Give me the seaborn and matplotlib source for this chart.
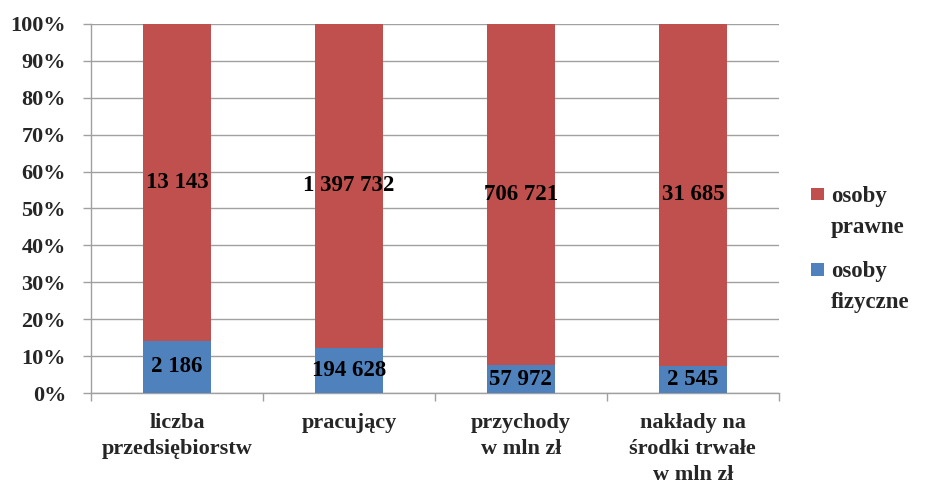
import numpy as np
import pandas as pd
import seaborn as sns
import matplotlib.pyplot as plt
from matplotlib.patches import Rectangle

categories = ["liczba\nprzedsiębiorstw", "pracujący", "przychody\nw mln zł",
              "nakłady na\nśrodki trwałe\nw mln zł"]
fizyczne = [2186, 194628, 57972, 2545]
prawne = [13143, 1397732, 706721, 31685]
labels_fiz = ["2 186", "194 628", "57 972", "2 545"]
labels_pra = ["13 143", "1 397 732", "706 721", "31 685"]
series_names = ["osoby\nprawne", "osoby\nfizyczne"]

red = "#C0504D"
blue = "#4F81BD"
grid_col = "#A0A0A0"

sns.set_theme(style="white")
plt.rcParams["font.family"] = ["Liberation Serif", "DejaVu Serif"]
plt.rcParams["font.weight"] = "bold"

fiz = np.array(fizyczne, dtype=float)
pra = np.array(prawne, dtype=float)
total = fiz + pra
df = pd.DataFrame({
    "kategoria": categories,
    "fiz_pct": fiz / total * 100,
    "total_pct": total / total * 100,
})

fig = plt.figure(figsize=(9.25, 4.86), dpi=100)
ax = fig.add_axes([0.0984, 0.191, 0.7436, 0.760])

sns.barplot(data=df, x="kategoria", y="total_pct", color=red, width=0.395,
            saturation=1, linewidth=0, edgecolor="none", ax=ax, zorder=2)
sns.barplot(data=df, x="kategoria", y="fiz_pct", color=blue, width=0.395,
            saturation=1, linewidth=0, edgecolor="none", ax=ax, zorder=3)

for i in range(len(categories)):
    fp = df["fiz_pct"][i]
    ax.text(i, fp / 2, labels_fiz[i], ha="center", va="center",
            fontsize=16.5, fontweight="bold", color="black", zorder=4)
    ax.text(i, fp + (100 - fp) * 0.5, labels_pra[i], ha="center", va="center",
            fontsize=16.5, fontweight="bold", color="black", zorder=4)

ax.set_xlim(-0.5, len(categories) - 0.5)
ax.set_ylim(0, 100)
ax.set_yticks(np.arange(0, 101, 10))
ax.set_yticklabels([f"{v}%" for v in range(0, 101, 10)], fontsize=16, fontweight="bold")
ax.yaxis.grid(True, color=grid_col, linewidth=1, zorder=0)
ax.set_axisbelow(True)

ax.set_xticks(range(len(categories)))
ax.set_xticklabels(categories, fontsize=16, fontweight="bold", linespacing=1.42)
ax.set_xticks(np.arange(-0.5, len(categories), 1), minor=True)
ax.tick_params(axis="x", which="major", length=0, pad=14)
ax.tick_params(axis="x", which="minor", length=6, color=grid_col, width=1,
               bottom=True, direction="out")
ax.tick_params(axis="y", length=6, color=grid_col, width=1, left=True,
               direction="out", pad=12)

ax.set_xlabel("")
ax.set_ylabel("")
for side in ["top", "right"]:
    ax.spines[side].set_visible(False)
for side in ["left", "bottom"]:
    ax.spines[side].set_color(grid_col)
    ax.spines[side].set_linewidth(1)

# legend, square aligned with the first text line
W, H = 925, 486
for name, col, top_px in zip(series_names, [red, blue], [188, 263]):
    fig.patches.append(Rectangle((811 / W, 1 - (top_px + 12.5) / H), 13 / W, 12.5 / H,
                                 transform=fig.transFigure, facecolor=col,
                                 edgecolor="none"))
    fig.text(831 / W, 1 - (top_px - 2) / H, name, ha="left", va="top",
             fontsize=16.5, fontweight="bold", linespacing=1.6)

fig.savefig("out.png", dpi=100)
